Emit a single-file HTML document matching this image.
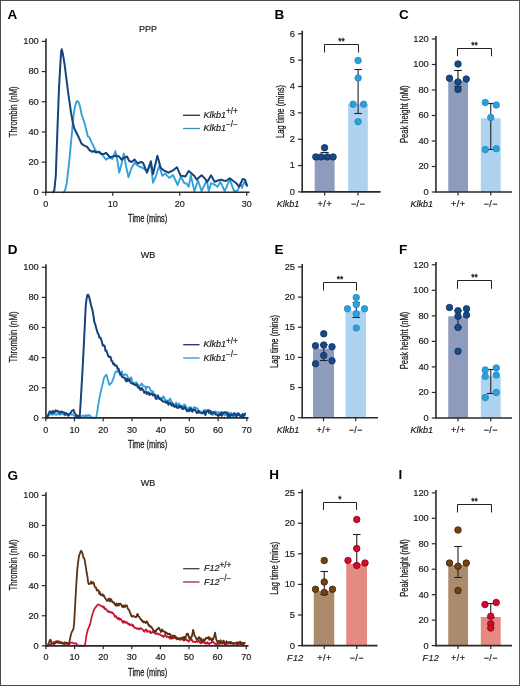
<!DOCTYPE html>
<html><head><meta charset="utf-8"><style>
html,body{margin:0;padding:0;background:#fff;}
.wrap{position:relative;width:520px;height:686px;overflow:hidden;background:#fff;}
.frame{position:absolute;left:0;top:0;width:518px;height:684px;border:1px solid #4a4a4a;border-right-color:#575757;}
svg{position:absolute;left:0;top:0;filter:blur(0.3px);}
svg text{font-family:"Liberation Sans",sans-serif;}
</style></head><body><div class="wrap">
<svg width="520" height="686" viewBox="0 0 520 686" font-family="Liberation Sans, sans-serif">
<text x="7.6" y="18.6" font-size="13.5" text-anchor="start" font-weight="bold" font-style="normal" fill="#000" >A</text>
<text x="148" y="32.3" font-size="9" text-anchor="middle" font-weight="normal" font-style="normal" fill="#1a1a1a"  stroke="#1a1a1a" stroke-width="0.18">PPP</text>
<path d="M63.6,192.5 L65,190.5 L66.5,184.6 L68.7,166.5 L70.5,148 L71.9,133.3 L73.5,115.6 L75.1,106 L76.5,101.6 L77.5,101 L78.5,102.2 L79.9,106 L81.5,114 L83.1,118.8 L84.7,123.7 L86.3,130.1 L87.9,136.5 L89.5,137.3 L91.1,141.3 L93.5,146.1 L95,149.5 L97,151.8 L99,152.5 L101.5,154.1 L104,157 L106,159.8 L108.5,158 L110,158 L112.3,159 L115.4,151.2 L117,158 L119.2,172.7 L121.5,164 L123.8,153.5 L126,166 L128.5,177.3 L131.5,168 L134.6,162.7 L137,165 L139.2,166.5 L143,168 L147,171.2 L150.8,164.2 L153,182.7 L156,175.8 L159.2,165.8 L162.3,175.8 L165.4,173.5 L169.2,178 L173,175 L177.7,185 L180.8,176.5 L184.3,183.2 L186.5,183.5 L188.7,186.8 L190.8,175.3 L194.4,191.2 L198,180.3 L201.6,191.2 L206.7,180.3 L208.8,191.2 L211,183.2 L214.5,184.5 L217.5,186.8 L220.4,181.8 L224.7,191.2 L229.8,179.6 L234.1,191.2 L237.7,190.5 L240.6,183.2 L242,188 L244.2,181.8 L247,186" fill="none" stroke="#33a1d9" stroke-width="1.9" stroke-linejoin="round" stroke-linecap="round"/>
<path d="M52.8,192.5 L54.3,190.6 L55.8,175.6 L57.4,130.4 L59,88 L60.6,60 L61.2,51.5 L61.7,49.3 L63,54.6 L64.6,64.3 L66.2,77.1 L67.8,90 L69.4,101.2 L71,112.4 L72.7,122 L74.3,128.5 L76.7,133.3 L79.1,138.1 L81.5,143.7 L83.9,145.3 L87.1,146.9 L89.5,150.1 L91.9,151.7 L94.3,150.9 L96,152.5 L99.2,151.8 L101.5,154 L103.8,154.1 L106,152.8 L108.5,155.5 L110,157.3 L113,156.5 L116.2,155.8 L119.2,156.5 L121.5,159.6 L123.8,158 L127,156.5 L129.2,161 L131.5,162 L134.6,159.6 L137.7,163.5 L140.8,162 L143,162.7 L147,172.7 L150.8,161.2 L153,174.2 L157.4,155.8 L160.8,168 L163.8,170.4 L168.5,172.7 L173,170.4 L177,167.3 L180.8,175.8 L182.9,176 L185.4,176.5 L188.7,171 L191,173 L194.4,176 L196.6,179.6 L201.6,175.3 L204,177.5 L207.4,181.8 L211,175.3 L214.6,181.8 L218,180.5 L221.1,179.6 L223.5,180.5 L226,181 L229.8,178.2 L232.7,180.5 L236.3,183.2 L239.1,186.8 L242.7,178.9 L245,179.6 L247,185.4" fill="none" stroke="#16437b" stroke-width="2.0" stroke-linejoin="round" stroke-linecap="round"/>
<line x1="45.95" y1="38.4" x2="45.95" y2="192.9" stroke="#2a2a2a" stroke-width="1.6"/>
<line x1="41.75" y1="192.3" x2="45.75" y2="192.3" stroke="#2a2a2a" stroke-width="1.2"/>
<text x="38.75" y="195.2" font-size="9.3" text-anchor="end" font-weight="normal" font-style="normal" fill="#1a1a1a"  stroke="#1a1a1a" stroke-width="0.18">0</text>
<line x1="41.75" y1="162.12" x2="45.75" y2="162.12" stroke="#2a2a2a" stroke-width="1.2"/>
<text x="38.75" y="165.02" font-size="9.3" text-anchor="end" font-weight="normal" font-style="normal" fill="#1a1a1a"  stroke="#1a1a1a" stroke-width="0.18">20</text>
<line x1="41.75" y1="131.94" x2="45.75" y2="131.94" stroke="#2a2a2a" stroke-width="1.2"/>
<text x="38.75" y="134.84" font-size="9.3" text-anchor="end" font-weight="normal" font-style="normal" fill="#1a1a1a"  stroke="#1a1a1a" stroke-width="0.18">40</text>
<line x1="41.75" y1="101.76" x2="45.75" y2="101.76" stroke="#2a2a2a" stroke-width="1.2"/>
<text x="38.75" y="104.66" font-size="9.3" text-anchor="end" font-weight="normal" font-style="normal" fill="#1a1a1a"  stroke="#1a1a1a" stroke-width="0.18">60</text>
<line x1="41.75" y1="71.58" x2="45.75" y2="71.58" stroke="#2a2a2a" stroke-width="1.2"/>
<text x="38.75" y="74.48" font-size="9.3" text-anchor="end" font-weight="normal" font-style="normal" fill="#1a1a1a"  stroke="#1a1a1a" stroke-width="0.18">80</text>
<line x1="41.75" y1="41.4" x2="45.75" y2="41.4" stroke="#2a2a2a" stroke-width="1.2"/>
<text x="38.75" y="44.3" font-size="9.3" text-anchor="end" font-weight="normal" font-style="normal" fill="#1a1a1a"  stroke="#1a1a1a" stroke-width="0.18">100</text>
<line x1="45.15" y1="192.3" x2="249.6" y2="192.3" stroke="#2a2a2a" stroke-width="1.6"/>
<line x1="45.75" y1="192.3" x2="45.75" y2="195.8" stroke="#2a2a2a" stroke-width="1.2"/>
<text x="45.75" y="207.2" font-size="9" text-anchor="middle" font-weight="normal" font-style="normal" fill="#1a1a1a"  stroke="#1a1a1a" stroke-width="0.18">0</text>
<line x1="112.75" y1="192.3" x2="112.75" y2="195.8" stroke="#2a2a2a" stroke-width="1.2"/>
<text x="112.75" y="207.2" font-size="9" text-anchor="middle" font-weight="normal" font-style="normal" fill="#1a1a1a"  stroke="#1a1a1a" stroke-width="0.18">10</text>
<line x1="179.75" y1="192.3" x2="179.75" y2="195.8" stroke="#2a2a2a" stroke-width="1.2"/>
<text x="179.75" y="207.2" font-size="9" text-anchor="middle" font-weight="normal" font-style="normal" fill="#1a1a1a"  stroke="#1a1a1a" stroke-width="0.18">20</text>
<line x1="246.75" y1="192.3" x2="246.75" y2="195.8" stroke="#2a2a2a" stroke-width="1.2"/>
<text x="246.75" y="207.2" font-size="9" text-anchor="middle" font-weight="normal" font-style="normal" fill="#1a1a1a"  stroke="#1a1a1a" stroke-width="0.18">30</text>
<text transform="translate(147.7,221.7) scale(0.733,1)" font-size="10.2" text-anchor="middle" fill="#1a1a1a" stroke="#1a1a1a" stroke-width="0.28">Time (mins)</text>
<text transform="translate(16.8,111.8) rotate(-90) scale(0.763,1)" font-size="10.2" text-anchor="middle" fill="#1a1a1a" stroke="#1a1a1a" stroke-width="0.25">Thrombin (nM)</text>
<line x1="183" y1="115.3" x2="200" y2="115.3" stroke="#1a3560" stroke-width="1.3"/>
<line x1="183" y1="128.5" x2="200" y2="128.5" stroke="#3593c4" stroke-width="1.3"/>
<text x="203.4" y="117.6" font-size="9" text-anchor="start" font-weight="normal" font-style="italic" fill="#1a1a1a"  stroke="#1a1a1a" stroke-width="0.18">Klkb1<tspan font-size="8.2" dy="-3.7" font-style="normal">+/+</tspan></text>
<text x="203.4" y="131.1" font-size="9" text-anchor="start" font-weight="normal" font-style="italic" fill="#1a1a1a"  stroke="#1a1a1a" stroke-width="0.18">Klkb1<tspan font-size="8.2" dy="-3.7" font-style="normal">&#8722;/&#8722;</tspan></text>
<text x="7.8" y="253.8" font-size="13.5" text-anchor="start" font-weight="bold" font-style="normal" fill="#000" >D</text>
<text x="148" y="258.1" font-size="9" text-anchor="middle" font-weight="normal" font-style="normal" fill="#1a1a1a"  stroke="#1a1a1a" stroke-width="0.18">WB</text>
<path d="M46.9,417.85 L47.76,417.33 L48.62,414.91 L49.48,414.98 L50.35,414.07 L51.21,414.13 L52.07,414.75 L52.93,413.8 L53.79,414.52 L54.66,413.8 L55.52,414.56 L56.38,414.79 L57.24,414.18 L58.1,413.2 L58.97,414.63 L59.83,414.85 L60.69,414.07 L61.55,413.24 L62.41,413.95 L63.28,414.62 L64.14,413.57 L65,415.49 L65.86,414.22 L66.72,415.05 L67.58,415.5 L68.45,415.58 L69.31,415.09 L70.17,413.74 L71.03,414.75 L71.89,414.2 L72.76,414.36 L73.62,415.35 L74.48,415.54 L75.34,417.02 L76.2,417.69 L77.07,417.74 L77.93,416.92 L78.79,417.52 L79.65,417.72 L80.51,417.06 L81.38,416.4 L82.24,415.61 L83.1,415.68 L83.96,416.08 L84.82,416.26 L85.68,414.93 L86.55,416.09 L87.41,415.78 L88.27,415.01 L89.13,415.76 L89.99,415.43 L90.86,417.81 L91.72,417.85 L92.58,417.35 L93.44,417.85 L94.3,417.85 L95.17,417.85 L96.03,417.85 L96.89,413.9 L97.75,408.53 L98.61,402.71 L99.48,397.76 L100.34,393.77 L101.2,390.1 L102.06,386.43 L102.92,382.83 L103.78,378.67 L104.65,376.46 L105.51,375.83 L106.37,374.63 L107.23,377.39 L108.09,380.54 L108.96,384.17 L109.82,384.89 L110.68,383.53 L111.54,382.7 L112.4,381.29 L113.27,378.58 L114.13,376.35 L114.99,373.14 L115.85,371.94 L116.71,370.9 L117.58,371.89 L118.44,368.9 L119.3,371.76 L120.16,372.45 L121.02,372.6 L121.88,371.12 L122.75,374.95 L123.61,374.88 L124.47,375.05 L125.33,374.12 L126.19,374.56 L127.06,374.89 L127.92,378.04 L128.78,378.63 L129.64,379.46 L130.5,377.71 L131.37,377.32 L132.23,381.23 L133.09,382.46 L133.95,382.88 L134.81,383.35 L135.67,382.7 L136.54,382.44 L137.4,384.21 L138.26,386.18 L139.12,385.15 L139.98,385.47 L140.85,385.02 L141.71,383.51 L142.57,384.67 L143.43,386.11 L144.29,386.28 L145.16,386.36 L146.02,389.48 L146.88,386.74 L147.74,386.88 L148.6,386.79 L149.47,387.41 L150.33,389.73 L151.19,390.7 L152.05,392.67 L152.91,391.15 L153.77,393.75 L154.64,394.77 L155.5,394.78 L156.36,395.39 L157.22,395.13 L158.08,396.73 L158.95,397.74 L159.81,397.68 L160.67,398.26 L161.53,397.6 L162.39,399.33 L163.26,396.3 L164.12,397.07 L164.98,399.72 L165.84,400.27 L166.7,400.33 L167.57,400.63 L168.43,402.15 L169.29,399.56 L170.15,398.56 L171.01,401 L171.87,401.83 L172.74,404.15 L173.6,404.96 L174.46,404.38 L175.32,404.83 L176.18,402.63 L177.05,405.33 L177.91,406.87 L178.77,403.3 L179.63,404.55 L180.49,406.83 L181.36,405.82 L182.22,408.12 L183.08,406.65 L183.94,404.47 L184.8,404.66 L185.67,405.69 L186.53,408.11 L187.39,408.39 L188.25,409.54 L189.11,407.26 L189.97,407.94 L190.84,407.16 L191.7,409.17 L192.56,410.32 L193.42,408.12 L194.28,406.96 L195.15,407.43 L196.01,407.93 L196.87,408.17 L197.73,408.76 L198.59,411.34 L199.46,410.8 L200.32,411.53 L201.18,413.32 L202.04,413.91 L202.9,413.05 L203.76,413.06 L204.63,411.24 L205.49,409.72 L206.35,411.78 L207.21,410.21 L208.07,409.72 L208.94,409.88 L209.8,412.68 L210.66,414.08 L211.52,414.46 L212.38,414.74 L213.25,414.84 L214.11,413.03 L214.97,411.38 L215.83,411.3 L216.69,412.97 L217.56,412.66 L218.42,411.98 L219.28,415.1 L220.14,413.33 L221,411.82 L221.86,412.08 L222.73,412.35 L223.59,413.7 L224.45,415.45 L225.31,413.19 L226.17,414.74 L227.04,413.07 L227.9,411.94 L228.76,414.32 L229.62,414.95 L230.48,412.68 L231.35,413.16 L232.21,415.83 L233.07,416.74 L233.93,416.91 L234.79,413.59 L235.66,413.25 L236.52,416.19 L237.38,413.9 L238.24,412.67 L239.1,413.87 L239.96,415.6 L240.83,415.19 L241.69,417.01 L242.55,417.85 L243.41,414.02 L244.27,414.52 L245.14,415.24" fill="none" stroke="#33a1d9" stroke-width="1.8" stroke-linejoin="round" stroke-linecap="round"/>
<path d="M46.9,417.85 L47.76,415.71 L48.62,413.84 L49.48,411.73 L50.35,411.38 L51.21,412.85 L52.07,413.27 L52.93,410.86 L53.79,411.99 L54.66,412.42 L55.52,410.35 L56.38,411.43 L57.24,410.68 L58.1,411.61 L58.97,411.5 L59.83,413.06 L60.69,412.17 L61.55,411.41 L62.41,412.38 L63.28,412.13 L64.14,412.41 L65,414.43 L65.86,413.05 L66.72,413.36 L67.58,414.45 L68.45,415.67 L69.31,413.69 L70.17,413.55 L71.03,412.24 L71.89,410.88 L72.76,410.47 L73.62,409.98 L74.48,412.97 L75.34,413.71 L76.2,416.13 L77.07,415.41 L77.93,415.77 L78.79,417.85 L79.65,417.8 L80.51,404.55 L81.38,389.75 L82.24,375.14 L83.1,359.19 L83.96,342.27 L84.82,324.52 L85.68,306.57 L86.55,298.9 L87.41,294.95 L88.27,294.79 L89.13,296.84 L89.99,300.74 L90.86,304.39 L91.72,307.54 L92.58,310.79 L93.44,315.79 L94.3,321.94 L95.17,324.01 L96.03,327.2 L96.89,330.42 L97.75,333.15 L98.61,334.46 L99.48,337.74 L100.34,337.47 L101.2,339.47 L102.06,342.64 L102.92,345.73 L103.78,345.15 L104.65,346.01 L105.51,350.82 L106.37,350.51 L107.23,352.98 L108.09,355.67 L108.96,356.97 L109.82,356.58 L110.68,357.09 L111.54,361.2 L112.4,361.16 L113.27,364.2 L114.13,363.51 L114.99,365.72 L115.85,365.27 L116.71,365.78 L117.58,368.59 L118.44,368.48 L119.3,371.91 L120.16,374.57 L121.02,374.06 L121.88,376.63 L122.75,377.35 L123.61,377.45 L124.47,377.42 L125.33,379.66 L126.19,381.41 L127.06,378.81 L127.92,381.05 L128.78,379.35 L129.64,379.7 L130.5,382.52 L131.37,383.29 L132.23,383.63 L133.09,383.6 L133.95,384.21 L134.81,384.93 L135.67,385.26 L136.54,384.38 L137.4,386.44 L138.26,387.63 L139.12,387.06 L139.98,389.36 L140.85,390.03 L141.71,387.67 L142.57,389.41 L143.43,390.1 L144.29,392.86 L145.16,392.13 L146.02,391.55 L146.88,394.12 L147.74,392.51 L148.6,392.35 L149.47,395.08 L150.33,393.64 L151.19,394.3 L152.05,393.88 L152.91,395.5 L153.77,394.71 L154.64,394.7 L155.5,398.1 L156.36,399.11 L157.22,397.04 L158.08,395.68 L158.95,398.77 L159.81,399.04 L160.67,398.89 L161.53,400.4 L162.39,400.96 L163.26,401.65 L164.12,401.85 L164.98,401.22 L165.84,402.62 L166.7,402.92 L167.57,401.59 L168.43,404.75 L169.29,403.47 L170.15,402.69 L171.01,404.58 L171.87,405.69 L172.74,403.73 L173.6,405.92 L174.46,406.95 L175.32,406.35 L176.18,405.27 L177.05,407.76 L177.91,407.64 L178.77,407.77 L179.63,405.86 L180.49,407.28 L181.36,406.05 L182.22,408.89 L183.08,409.08 L183.94,407.99 L184.8,406.91 L185.67,408.71 L186.53,410.3 L187.39,411.26 L188.25,409.89 L189.11,411.13 L189.97,408.94 L190.84,408.39 L191.7,411.19 L192.56,411.62 L193.42,409.6 L194.28,409.94 L195.15,409.45 L196.01,411.44 L196.87,413 L197.73,412.83 L198.59,410.72 L199.46,412.54 L200.32,412.77 L201.18,412.62 L202.04,412.67 L202.9,412.83 L203.76,410.77 L204.63,413.64 L205.49,415.11 L206.35,411.54 L207.21,411.02 L208.07,410.53 L208.94,412.88 L209.8,411.33 L210.66,411.07 L211.52,414.08 L212.38,412.62 L213.25,411.91 L214.11,412.52 L214.97,413.34 L215.83,414.57 L216.69,414.7 L217.56,415.27 L218.42,416.13 L219.28,414.16 L220.14,415.01 L221,413.01 L221.86,415.84 L222.73,412.91 L223.59,413.12 L224.45,412.23 L225.31,412.17 L226.17,412.18 L227.04,413.61 L227.9,416.44 L228.76,414.04 L229.62,415.95 L230.48,415.91 L231.35,414.39 L232.21,414.64 L233.07,415.22 L233.93,413.15 L234.79,414.07 L235.66,415.5 L236.52,416.28 L237.38,413.9 L238.24,415 L239.1,414 L239.96,415.64 L240.83,416.75 L241.69,415.62 L242.55,414.17 L243.41,416.61 L244.27,414.6 L245.14,413.58" fill="none" stroke="#16437b" stroke-width="2.0" stroke-linejoin="round" stroke-linecap="round"/>
<line x1="45.95" y1="264.25" x2="45.95" y2="418.45" stroke="#2a2a2a" stroke-width="1.6"/>
<line x1="41.75" y1="417.85" x2="45.75" y2="417.85" stroke="#2a2a2a" stroke-width="1.2"/>
<text x="38.75" y="420.75" font-size="9.3" text-anchor="end" font-weight="normal" font-style="normal" fill="#1a1a1a"  stroke="#1a1a1a" stroke-width="0.18">0</text>
<line x1="41.75" y1="387.73" x2="45.75" y2="387.73" stroke="#2a2a2a" stroke-width="1.2"/>
<text x="38.75" y="390.63" font-size="9.3" text-anchor="end" font-weight="normal" font-style="normal" fill="#1a1a1a"  stroke="#1a1a1a" stroke-width="0.18">20</text>
<line x1="41.75" y1="357.61" x2="45.75" y2="357.61" stroke="#2a2a2a" stroke-width="1.2"/>
<text x="38.75" y="360.51" font-size="9.3" text-anchor="end" font-weight="normal" font-style="normal" fill="#1a1a1a"  stroke="#1a1a1a" stroke-width="0.18">40</text>
<line x1="41.75" y1="327.49" x2="45.75" y2="327.49" stroke="#2a2a2a" stroke-width="1.2"/>
<text x="38.75" y="330.39" font-size="9.3" text-anchor="end" font-weight="normal" font-style="normal" fill="#1a1a1a"  stroke="#1a1a1a" stroke-width="0.18">60</text>
<line x1="41.75" y1="297.37" x2="45.75" y2="297.37" stroke="#2a2a2a" stroke-width="1.2"/>
<text x="38.75" y="300.27" font-size="9.3" text-anchor="end" font-weight="normal" font-style="normal" fill="#1a1a1a"  stroke="#1a1a1a" stroke-width="0.18">80</text>
<line x1="41.75" y1="267.25" x2="45.75" y2="267.25" stroke="#2a2a2a" stroke-width="1.2"/>
<text x="38.75" y="270.15" font-size="9.3" text-anchor="end" font-weight="normal" font-style="normal" fill="#1a1a1a"  stroke="#1a1a1a" stroke-width="0.18">100</text>
<line x1="45.15" y1="417.85" x2="248.5" y2="417.85" stroke="#2a2a2a" stroke-width="1.6"/>
<line x1="45.75" y1="417.85" x2="45.75" y2="421.35" stroke="#2a2a2a" stroke-width="1.2"/>
<text x="45.75" y="432.5" font-size="9" text-anchor="middle" font-weight="normal" font-style="normal" fill="#1a1a1a"  stroke="#1a1a1a" stroke-width="0.18">0</text>
<line x1="74.48" y1="417.85" x2="74.48" y2="421.35" stroke="#2a2a2a" stroke-width="1.2"/>
<text x="74.48" y="432.5" font-size="9" text-anchor="middle" font-weight="normal" font-style="normal" fill="#1a1a1a"  stroke="#1a1a1a" stroke-width="0.18">10</text>
<line x1="103.21" y1="417.85" x2="103.21" y2="421.35" stroke="#2a2a2a" stroke-width="1.2"/>
<text x="103.21" y="432.5" font-size="9" text-anchor="middle" font-weight="normal" font-style="normal" fill="#1a1a1a"  stroke="#1a1a1a" stroke-width="0.18">20</text>
<line x1="131.94" y1="417.85" x2="131.94" y2="421.35" stroke="#2a2a2a" stroke-width="1.2"/>
<text x="131.94" y="432.5" font-size="9" text-anchor="middle" font-weight="normal" font-style="normal" fill="#1a1a1a"  stroke="#1a1a1a" stroke-width="0.18">30</text>
<line x1="160.67" y1="417.85" x2="160.67" y2="421.35" stroke="#2a2a2a" stroke-width="1.2"/>
<text x="160.67" y="432.5" font-size="9" text-anchor="middle" font-weight="normal" font-style="normal" fill="#1a1a1a"  stroke="#1a1a1a" stroke-width="0.18">40</text>
<line x1="189.4" y1="417.85" x2="189.4" y2="421.35" stroke="#2a2a2a" stroke-width="1.2"/>
<text x="189.4" y="432.5" font-size="9" text-anchor="middle" font-weight="normal" font-style="normal" fill="#1a1a1a"  stroke="#1a1a1a" stroke-width="0.18">50</text>
<line x1="218.13" y1="417.85" x2="218.13" y2="421.35" stroke="#2a2a2a" stroke-width="1.2"/>
<text x="218.13" y="432.5" font-size="9" text-anchor="middle" font-weight="normal" font-style="normal" fill="#1a1a1a"  stroke="#1a1a1a" stroke-width="0.18">60</text>
<line x1="246.86" y1="417.85" x2="246.86" y2="421.35" stroke="#2a2a2a" stroke-width="1.2"/>
<text x="246.86" y="432.5" font-size="9" text-anchor="middle" font-weight="normal" font-style="normal" fill="#1a1a1a"  stroke="#1a1a1a" stroke-width="0.18">70</text>
<text transform="translate(147.7,448) scale(0.733,1)" font-size="10.2" text-anchor="middle" fill="#1a1a1a" stroke="#1a1a1a" stroke-width="0.28">Time (mins)</text>
<text transform="translate(16.8,337) rotate(-90) scale(0.763,1)" font-size="10.2" text-anchor="middle" fill="#1a1a1a" stroke="#1a1a1a" stroke-width="0.25">Thrombin (nM)</text>
<line x1="183.2" y1="344.7" x2="199.6" y2="344.7" stroke="#1a3560" stroke-width="1.3"/>
<line x1="183.2" y1="358" x2="199.6" y2="358" stroke="#3593c4" stroke-width="1.3"/>
<text x="203.4" y="347.2" font-size="9" text-anchor="start" font-weight="normal" font-style="italic" fill="#1a1a1a"  stroke="#1a1a1a" stroke-width="0.18">Klkb1<tspan font-size="8.2" dy="-3.7" font-style="normal">+/+</tspan></text>
<text x="203.4" y="360.6" font-size="9" text-anchor="start" font-weight="normal" font-style="italic" fill="#1a1a1a"  stroke="#1a1a1a" stroke-width="0.18">Klkb1<tspan font-size="8.2" dy="-3.7" font-style="normal">&#8722;/&#8722;</tspan></text>
<text x="7.6" y="479.5" font-size="13.5" text-anchor="start" font-weight="bold" font-style="normal" fill="#000" >G</text>
<text x="148" y="486.1" font-size="9" text-anchor="middle" font-weight="normal" font-style="normal" fill="#1a1a1a"  stroke="#1a1a1a" stroke-width="0.18">WB</text>
<path d="M47.72,645.85 L48.35,645.43 L48.97,644.55 L49.6,644.68 L50.23,644.4 L50.86,643.95 L51.49,644.12 L52.12,643.41 L52.75,642.76 L53.38,642.07 L54.01,642.53 L54.64,642.05 L55.27,642 L55.9,641.19 L56.52,641.21 L57.15,642.17 L57.78,641.2 L58.41,641.05 L59.04,641.51 L59.67,641.74 L60.3,642.49 L60.93,643.07 L61.56,642.68 L62.19,643.38 L62.82,643.55 L63.45,643.69 L64.08,644.17 L64.7,643.84 L65.33,643.81 L65.96,643.31 L66.59,643.67 L67.22,643.65 L67.85,643.88 L68.48,643.77 L69.11,643.97 L69.74,644.09 L70.37,643 L71,642.59 L71.63,642.55 L72.25,642.58 L72.88,642.98 L73.51,643.33 L74.14,643.41 L74.77,643.79 L75.4,643.01 L76.03,643.38 L76.66,643.77 L77.29,645.19 L77.92,645.34 L78.55,645.54 L79.18,645.85 L79.81,645.85 L80.43,645.64 L81.06,645.82 L81.69,645.52 L82.32,645.84 L82.95,645.85 L83.58,645.83 L84.21,645.66 L84.84,645.85 L85.47,642.3 L86.1,637.95 L86.73,634.14 L87.36,631.32 L87.98,629.38 L88.61,627.86 L89.24,626.42 L89.87,624.93 L90.5,622.51 L91.13,619.82 L91.76,616.66 L92.39,614.37 L93.02,612.77 L93.65,610.67 L94.28,609.21 L94.91,608.05 L95.54,607.52 L96.16,606.58 L96.79,605.87 L97.42,605.05 L98.05,604.5 L98.68,604.49 L99.31,604.9 L99.94,604.97 L100.57,605.72 L101.2,606.07 L101.83,606.13 L102.46,606.57 L103.09,607.34 L103.71,606.37 L104.34,608.37 L104.97,609.09 L105.6,608.31 L106.23,609.54 L106.86,610.25 L107.49,611.3 L108.12,611.84 L108.75,611.05 L109.38,612.01 L110.01,611.66 L110.64,612.45 L111.27,612.76 L111.89,611.88 L112.52,613.15 L113.15,613.65 L113.78,613.62 L114.41,615.82 L115.04,616.97 L115.67,615.9 L116.3,616.27 L116.93,618.04 L117.56,618.94 L118.19,618.1 L118.82,617.71 L119.44,619.76 L120.07,618.71 L120.7,618.92 L121.33,619.98 L121.96,621 L122.59,622.21 L123.22,622.85 L123.85,620.9 L124.48,622.39 L125.11,621.78 L125.74,622.92 L126.37,621.98 L127,622.49 L127.62,623.55 L128.25,624.29 L128.88,623.38 L129.51,625.02 L130.14,625.28 L130.77,624.77 L131.4,624.17 L132.03,624.85 L132.66,626.1 L133.29,625.08 L133.92,626.85 L134.55,627.99 L135.17,627.84 L135.8,627.56 L136.43,628.65 L137.06,628.84 L137.69,628.62 L138.32,628.26 L138.95,629.46 L139.58,629.4 L140.21,628.27 L140.84,627.94 L141.47,628.77 L142.1,629.01 L142.73,629.46 L143.35,630.8 L143.98,631.52 L144.61,631.87 L145.24,629.86 L145.87,630.01 L146.5,629.52 L147.13,631.88 L147.76,631.13 L148.39,631.5 L149.02,631.16 L149.65,632.27 L150.28,631.03 L150.9,633.2 L151.53,632.75 L152.16,632.34 L152.79,632.01 L153.42,632.47 L154.05,632.8 L154.68,632.79 L155.31,632.62 L155.94,634.12 L156.57,633.8 L157.2,633.32 L157.83,633.41 L158.46,634.69 L159.08,634.22 L159.71,634.05 L160.34,634.86 L160.97,635.06 L161.6,635.85 L162.23,635.68 L162.86,635.7 L163.49,637.15 L164.12,636.25 L164.75,635.28 L165.38,635.44 L166.01,635.93 L166.63,636.99 L167.26,636.48 L167.89,636.83 L168.52,637.36 L169.15,636.59 L169.78,638.36 L170.41,637.24 L171.04,638.84 L171.67,637.89 L172.3,637.96 L172.93,638.62 L173.56,637.65 L174.19,637.93 L174.81,637.73 L175.44,636.95 L176.07,638.43 L176.7,639.43 L177.33,638.98 L177.96,638.05 L178.59,639.15 L179.22,639.64 L179.85,638.07 L180.48,638.42 L181.11,639.19 L181.74,638.4 L182.36,639.74 L182.99,639.37 L183.62,640.57 L184.25,640.37 L184.88,639.43 L185.51,638.98 L186.14,639.01 L186.77,640.31 L187.4,640.2 L188.03,640.89 L188.66,641.57 L189.29,640.9 L189.92,639.94 L190.54,639.73 L191.17,640.08 L191.8,639.63 L192.43,641.25 L193.06,641.98 L193.69,641.52 L194.32,641.9 L194.95,642.2 L195.58,641.82 L196.21,641.25 L196.84,641.48 L197.47,642.03 L198.09,640.92 L198.72,640.33 L199.35,641.55 L199.98,642.84 L200.61,643.32 L201.24,641.39 L201.87,643.03 L202.5,641.82 L203.13,641.91 L203.76,642.63 L204.39,641.66 L205.02,643.39 L205.65,643.58 L206.27,642.88 L206.9,643.82 L207.53,642.1 L208.16,643.19 L208.79,643.75 L209.42,644.17 L210.05,642.87 L210.68,643.02 L211.31,642.63 L211.94,642.5 L212.57,642.11 L213.2,641.67 L213.82,642.26 L214.45,643.64 L215.08,643.33 L215.71,644.01 L216.34,644.63 L216.97,643.66 L217.6,642.85 L218.23,644 L218.86,644.08 L219.49,643.95 L220.12,643.07 L220.75,643.31 L221.38,643.16 L222,642.8 L222.63,643.64 L223.26,642.89 L223.89,642.42 L224.52,644.35 L225.15,642.74 L225.78,642.87 L226.41,644.38 L227.04,643.96 L227.67,643.44 L228.3,642.61 L228.93,643.74 L229.55,643.55 L230.18,642.75 L230.81,642.76 L231.44,642.4 L232.07,643.52 L232.7,643.34 L233.33,644.41 L233.96,643.41 L234.59,642.93 L235.22,643.25 L235.85,643.16 L236.48,644.39 L237.11,643.01 L237.73,642.47 L238.36,642.35 L238.99,643.43 L239.62,643.07 L240.25,644.16 L240.88,642.98 L241.51,642.83 L242.14,644.06 L242.77,645.04 L243.4,644.4 L244.03,643.98 L244.66,643.34" fill="none" stroke="#cc1034" stroke-width="1.7" stroke-linejoin="round" stroke-linecap="round"/>
<path d="M47.72,645.63 L48.35,644 L48.97,642.47 L49.6,640.8 L50.23,639.73 L50.86,640.22 L51.49,642.73 L52.12,643.29 L52.75,643.29 L53.38,644 L54.01,643.09 L54.64,643.9 L55.27,643.06 L55.9,642.86 L56.52,641.88 L57.15,641.8 L57.78,642.91 L58.41,642.93 L59.04,642.93 L59.67,641.89 L60.3,642.01 L60.93,643.24 L61.56,642.39 L62.19,643.32 L62.82,642.66 L63.45,643.35 L64.08,643.72 L64.7,642.22 L65.33,643.01 L65.96,643.16 L66.59,642.53 L67.22,643.16 L67.85,644.69 L68.48,643.07 L69.11,642.96 L69.74,640.62 L70.37,637.04 L71,634.19 L71.63,632.47 L72.25,631.22 L72.88,630.27 L73.51,628.57 L74.14,623.09 L74.77,611.78 L75.4,600.33 L76.03,588.94 L76.66,578.63 L77.29,569.35 L77.92,563.66 L78.55,558.97 L79.18,555.12 L79.81,553.83 L80.43,551.91 L81.06,550.78 L81.69,551.5 L82.32,553.09 L82.95,555.53 L83.58,557.9 L84.21,558.27 L84.84,560.83 L85.47,564.86 L86.1,568.63 L86.73,573.03 L87.36,575.91 L87.98,581.09 L88.61,584.16 L89.24,583.82 L89.87,583.64 L90.5,583.67 L91.13,581.51 L91.76,583.65 L92.39,582.71 L93.02,582.2 L93.65,582.51 L94.28,585.4 L94.91,586.89 L95.54,587.52 L96.16,587.69 L96.79,590.62 L97.42,589.89 L98.05,590.16 L98.68,590.65 L99.31,593.93 L99.94,592.21 L100.57,594.87 L101.2,595.13 L101.83,594.74 L102.46,594.06 L103.09,596.11 L103.71,595.15 L104.34,596.49 L104.97,597.94 L105.6,598.67 L106.23,599.67 L106.86,600.61 L107.49,601 L108.12,599.73 L108.75,598.32 L109.38,600.61 L110.01,601.54 L110.64,598.81 L111.27,599.56 L111.89,600.72 L112.52,602.29 L113.15,602.23 L113.78,602.15 L114.41,603.9 L115.04,604.33 L115.67,605.67 L116.3,603.36 L116.93,605.65 L117.56,604.84 L118.19,603.62 L118.82,605.62 L119.44,604.33 L120.07,603.48 L120.7,604.42 L121.33,604.3 L121.96,606.56 L122.59,606.24 L123.22,607.2 L123.85,605.39 L124.48,606.81 L125.11,606.81 L125.74,605.23 L126.37,605.44 L127,605.65 L127.62,608.14 L128.25,609.35 L128.88,609.59 L129.51,611.14 L130.14,612.99 L130.77,614.06 L131.4,616.06 L132.03,616.76 L132.66,615.93 L133.29,615.84 L133.92,616.37 L134.55,616.59 L135.17,616.85 L135.8,617.39 L136.43,616.63 L137.06,614.52 L137.69,613.83 L138.32,616.34 L138.95,616.43 L139.58,617.31 L140.21,618.59 L140.84,619.62 L141.47,619.71 L142.1,621.24 L142.73,620.82 L143.35,622.31 L143.98,622.3 L144.61,621.66 L145.24,622.02 L145.87,623.18 L146.5,621.34 L147.13,621.74 L147.76,622.69 L148.39,625.34 L149.02,624.88 L149.65,626.28 L150.28,625.87 L150.9,627 L151.53,627 L152.16,628.33 L152.79,628.98 L153.42,631.36 L154.05,631.8 L154.68,631.11 L155.31,630.34 L155.94,631.38 L156.57,629.81 L157.2,629.05 L157.83,629.15 L158.46,627.99 L159.08,627.93 L159.71,629.61 L160.34,630.24 L160.97,632.1 L161.6,630.09 L162.23,629.42 L162.86,631.38 L163.49,631.24 L164.12,631.33 L164.75,631.53 L165.38,634.07 L166.01,632.46 L166.63,633.1 L167.26,633.14 L167.89,634.37 L168.52,634.08 L169.15,633.62 L169.78,634.29 L170.41,634.26 L171.04,637.14 L171.67,637.42 L172.3,636.44 L172.93,635.44 L173.56,637.04 L174.19,635.64 L174.81,635.61 L175.44,638.09 L176.07,637.06 L176.7,637.89 L177.33,638.9 L177.96,638.92 L178.59,638.28 L179.22,638.76 L179.85,638.93 L180.48,639.71 L181.11,638.25 L181.74,638.33 L182.36,637.5 L182.99,637.48 L183.62,639 L184.25,636.78 L184.88,639.98 L185.51,637.58 L186.14,635.99 L186.77,633.63 L187.4,634.93 L188.03,633.71 L188.66,636.33 L189.29,638.87 L189.92,637.15 L190.54,638.98 L191.17,637.76 L191.8,636.48 L192.43,633.41 L193.06,629.82 L193.69,631.85 L194.32,635.39 L194.95,636.1 L195.58,636.93 L196.21,638.43 L196.84,639.95 L197.47,638.71 L198.09,638.75 L198.72,637.38 L199.35,637.21 L199.98,638.79 L200.61,640.18 L201.24,638.32 L201.87,641.48 L202.5,641.84 L203.13,640.06 L203.76,639.42 L204.39,641.19 L205.02,639.64 L205.65,638.09 L206.27,638.69 L206.9,637.76 L207.53,637.51 L208.16,638.48 L208.79,636.93 L209.42,639.88 L210.05,638.32 L210.68,638.08 L211.31,639.36 L211.94,641.08 L212.57,638.62 L213.2,639.28 L213.82,637.3 L214.45,635.21 L215.08,632.7 L215.71,636.38 L216.34,639.87 L216.97,640.93 L217.6,642.44 L218.23,640.92 L218.86,641.41 L219.49,642.28 L220.12,640.65 L220.75,640.19 L221.38,643.53 L222,642.36 L222.63,643.13 L223.26,640.67 L223.89,640.97 L224.52,642.77 L225.15,643.19 L225.78,643.68 L226.41,641.21 L227.04,642.82 L227.67,642.27 L228.3,642.59 L228.93,642.16 L229.55,642.22 L230.18,641.83 L230.81,643.75 L231.44,642.23 L232.07,643.33 L232.7,642.89 L233.33,643.42 L233.96,643.7 L234.59,643.05 L235.22,643.12 L235.85,643.48 L236.48,642.38 L237.11,642.61 L237.73,644.44 L238.36,644.23 L238.99,643.56 L239.62,641.95 L240.25,641.66 L240.88,642.69 L241.51,644.65 L242.14,642.74 L242.77,643.39 L243.4,643.11 L244.03,642.64 L244.66,642.78" fill="none" stroke="#5a3212" stroke-width="1.8" stroke-linejoin="round" stroke-linecap="round"/>
<line x1="45.95" y1="492.35" x2="45.95" y2="646.45" stroke="#2a2a2a" stroke-width="1.6"/>
<line x1="41.75" y1="645.85" x2="45.75" y2="645.85" stroke="#2a2a2a" stroke-width="1.2"/>
<text x="38.75" y="648.75" font-size="9.3" text-anchor="end" font-weight="normal" font-style="normal" fill="#1a1a1a"  stroke="#1a1a1a" stroke-width="0.18">0</text>
<line x1="41.75" y1="615.75" x2="45.75" y2="615.75" stroke="#2a2a2a" stroke-width="1.2"/>
<text x="38.75" y="618.65" font-size="9.3" text-anchor="end" font-weight="normal" font-style="normal" fill="#1a1a1a"  stroke="#1a1a1a" stroke-width="0.18">20</text>
<line x1="41.75" y1="585.65" x2="45.75" y2="585.65" stroke="#2a2a2a" stroke-width="1.2"/>
<text x="38.75" y="588.55" font-size="9.3" text-anchor="end" font-weight="normal" font-style="normal" fill="#1a1a1a"  stroke="#1a1a1a" stroke-width="0.18">40</text>
<line x1="41.75" y1="555.55" x2="45.75" y2="555.55" stroke="#2a2a2a" stroke-width="1.2"/>
<text x="38.75" y="558.45" font-size="9.3" text-anchor="end" font-weight="normal" font-style="normal" fill="#1a1a1a"  stroke="#1a1a1a" stroke-width="0.18">60</text>
<line x1="41.75" y1="525.45" x2="45.75" y2="525.45" stroke="#2a2a2a" stroke-width="1.2"/>
<text x="38.75" y="528.35" font-size="9.3" text-anchor="end" font-weight="normal" font-style="normal" fill="#1a1a1a"  stroke="#1a1a1a" stroke-width="0.18">80</text>
<line x1="41.75" y1="495.35" x2="45.75" y2="495.35" stroke="#2a2a2a" stroke-width="1.2"/>
<text x="38.75" y="498.25" font-size="9.3" text-anchor="end" font-weight="normal" font-style="normal" fill="#1a1a1a"  stroke="#1a1a1a" stroke-width="0.18">100</text>
<line x1="45.15" y1="645.85" x2="248.5" y2="645.85" stroke="#2a2a2a" stroke-width="1.6"/>
<line x1="46" y1="645.85" x2="46" y2="649.35" stroke="#2a2a2a" stroke-width="1.2"/>
<text x="46" y="660.1" font-size="9" text-anchor="middle" font-weight="normal" font-style="normal" fill="#1a1a1a"  stroke="#1a1a1a" stroke-width="0.18">0</text>
<line x1="74.6" y1="645.85" x2="74.6" y2="649.35" stroke="#2a2a2a" stroke-width="1.2"/>
<text x="74.6" y="660.1" font-size="9" text-anchor="middle" font-weight="normal" font-style="normal" fill="#1a1a1a"  stroke="#1a1a1a" stroke-width="0.18">10</text>
<line x1="103.2" y1="645.85" x2="103.2" y2="649.35" stroke="#2a2a2a" stroke-width="1.2"/>
<text x="103.2" y="660.1" font-size="9" text-anchor="middle" font-weight="normal" font-style="normal" fill="#1a1a1a"  stroke="#1a1a1a" stroke-width="0.18">20</text>
<line x1="131.8" y1="645.85" x2="131.8" y2="649.35" stroke="#2a2a2a" stroke-width="1.2"/>
<text x="131.8" y="660.1" font-size="9" text-anchor="middle" font-weight="normal" font-style="normal" fill="#1a1a1a"  stroke="#1a1a1a" stroke-width="0.18">30</text>
<line x1="160.4" y1="645.85" x2="160.4" y2="649.35" stroke="#2a2a2a" stroke-width="1.2"/>
<text x="160.4" y="660.1" font-size="9" text-anchor="middle" font-weight="normal" font-style="normal" fill="#1a1a1a"  stroke="#1a1a1a" stroke-width="0.18">40</text>
<line x1="189" y1="645.85" x2="189" y2="649.35" stroke="#2a2a2a" stroke-width="1.2"/>
<text x="189" y="660.1" font-size="9" text-anchor="middle" font-weight="normal" font-style="normal" fill="#1a1a1a"  stroke="#1a1a1a" stroke-width="0.18">50</text>
<line x1="217.6" y1="645.85" x2="217.6" y2="649.35" stroke="#2a2a2a" stroke-width="1.2"/>
<text x="217.6" y="660.1" font-size="9" text-anchor="middle" font-weight="normal" font-style="normal" fill="#1a1a1a"  stroke="#1a1a1a" stroke-width="0.18">60</text>
<line x1="246.2" y1="645.85" x2="246.2" y2="649.35" stroke="#2a2a2a" stroke-width="1.2"/>
<text x="246.2" y="660.1" font-size="9" text-anchor="middle" font-weight="normal" font-style="normal" fill="#1a1a1a"  stroke="#1a1a1a" stroke-width="0.18">70</text>
<text transform="translate(147.7,676) scale(0.733,1)" font-size="10.2" text-anchor="middle" fill="#1a1a1a" stroke="#1a1a1a" stroke-width="0.28">Time (mins)</text>
<text transform="translate(16.8,564.9) rotate(-90) scale(0.763,1)" font-size="10.2" text-anchor="middle" fill="#1a1a1a" stroke="#1a1a1a" stroke-width="0.25">Thrombin (nM)</text>
<line x1="183.1" y1="568.7" x2="199.5" y2="568.7" stroke="#5a3a22" stroke-width="1.3"/>
<line x1="183.1" y1="582" x2="199.5" y2="582" stroke="#b0203e" stroke-width="1.3"/>
<text x="203.9" y="571.4" font-size="9" text-anchor="start" font-weight="normal" font-style="italic" fill="#1a1a1a"  stroke="#1a1a1a" stroke-width="0.18">F12<tspan font-size="8.2" dy="-3.7" font-style="normal">+/+</tspan></text>
<text x="203.9" y="584.6" font-size="9" text-anchor="start" font-weight="normal" font-style="italic" fill="#1a1a1a"  stroke="#1a1a1a" stroke-width="0.18">F12<tspan font-size="8.2" dy="-3.7" font-style="normal">&#8722;/&#8722;</tspan></text>
<text x="274.6" y="18.8" font-size="13.5" text-anchor="start" font-weight="bold" font-style="normal" fill="#000" >B</text>
<rect x="314.7" y="156.85" width="19.9" height="35.05" fill="#8e9bbd"/>
<rect x="348.1" y="104.2" width="19.7" height="87.7" fill="#aed3f1"/>
<line x1="324.6" y1="152.5" x2="324.6" y2="152.5" stroke="#222" stroke-width="1.1"/>
<line x1="320.8" y1="152.5" x2="328.4" y2="152.5" stroke="#222" stroke-width="1.1"/>
<line x1="320.8" y1="152.5" x2="328.4" y2="152.5" stroke="#222" stroke-width="1.1"/>
<line x1="358.1" y1="69.5" x2="358.1" y2="113.5" stroke="#222" stroke-width="1.1"/>
<line x1="354.3" y1="69.5" x2="361.9" y2="69.5" stroke="#222" stroke-width="1.1"/>
<line x1="354.3" y1="113.5" x2="361.9" y2="113.5" stroke="#222" stroke-width="1.1"/>
<circle cx="315.8" cy="156.9" r="3.25" fill="#164985" stroke="#0c3262" stroke-width="0.8"/>
<circle cx="321.2" cy="156.9" r="3.25" fill="#164985" stroke="#0c3262" stroke-width="0.8"/>
<circle cx="327.3" cy="156.9" r="3.25" fill="#164985" stroke="#0c3262" stroke-width="0.8"/>
<circle cx="333.1" cy="156.9" r="3.25" fill="#164985" stroke="#0c3262" stroke-width="0.8"/>
<circle cx="324.6" cy="147.7" r="3.25" fill="#164985" stroke="#0c3262" stroke-width="0.8"/>
<circle cx="358.1" cy="60.5" r="3.25" fill="#2ca0da" stroke="#1f88c4" stroke-width="0.8"/>
<circle cx="358.1" cy="78" r="3.25" fill="#2ca0da" stroke="#1f88c4" stroke-width="0.8"/>
<circle cx="353.1" cy="104.2" r="3.25" fill="#2ca0da" stroke="#1f88c4" stroke-width="0.8"/>
<circle cx="363.6" cy="104.2" r="3.25" fill="#2ca0da" stroke="#1f88c4" stroke-width="0.8"/>
<circle cx="358.1" cy="121.7" r="3.25" fill="#2ca0da" stroke="#1f88c4" stroke-width="0.8"/>
<line x1="302.2" y1="30.8" x2="302.2" y2="192.5" stroke="#2a2a2a" stroke-width="1.6"/>
<line x1="298" y1="191.9" x2="302" y2="191.9" stroke="#2a2a2a" stroke-width="1.2"/>
<text x="295" y="194.8" font-size="9.3" text-anchor="end" font-weight="normal" font-style="normal" fill="#1a1a1a"  stroke="#1a1a1a" stroke-width="0.18">0</text>
<line x1="298" y1="165.55" x2="302" y2="165.55" stroke="#2a2a2a" stroke-width="1.2"/>
<text x="295" y="168.45" font-size="9.3" text-anchor="end" font-weight="normal" font-style="normal" fill="#1a1a1a"  stroke="#1a1a1a" stroke-width="0.18">1</text>
<line x1="298" y1="139.2" x2="302" y2="139.2" stroke="#2a2a2a" stroke-width="1.2"/>
<text x="295" y="142.1" font-size="9.3" text-anchor="end" font-weight="normal" font-style="normal" fill="#1a1a1a"  stroke="#1a1a1a" stroke-width="0.18">2</text>
<line x1="298" y1="112.85" x2="302" y2="112.85" stroke="#2a2a2a" stroke-width="1.2"/>
<text x="295" y="115.75" font-size="9.3" text-anchor="end" font-weight="normal" font-style="normal" fill="#1a1a1a"  stroke="#1a1a1a" stroke-width="0.18">3</text>
<line x1="298" y1="86.5" x2="302" y2="86.5" stroke="#2a2a2a" stroke-width="1.2"/>
<text x="295" y="89.4" font-size="9.3" text-anchor="end" font-weight="normal" font-style="normal" fill="#1a1a1a"  stroke="#1a1a1a" stroke-width="0.18">4</text>
<line x1="298" y1="60.15" x2="302" y2="60.15" stroke="#2a2a2a" stroke-width="1.2"/>
<text x="295" y="63.05" font-size="9.3" text-anchor="end" font-weight="normal" font-style="normal" fill="#1a1a1a"  stroke="#1a1a1a" stroke-width="0.18">5</text>
<line x1="298" y1="33.8" x2="302" y2="33.8" stroke="#2a2a2a" stroke-width="1.2"/>
<text x="295" y="36.7" font-size="9.3" text-anchor="end" font-weight="normal" font-style="normal" fill="#1a1a1a"  stroke="#1a1a1a" stroke-width="0.18">6</text>
<line x1="301.4" y1="191.9" x2="380.6" y2="191.9" stroke="#2a2a2a" stroke-width="1.6"/>
<line x1="324.6" y1="191.9" x2="324.6" y2="195.4" stroke="#2a2a2a" stroke-width="1.2"/>
<line x1="358" y1="191.9" x2="358" y2="195.4" stroke="#2a2a2a" stroke-width="1.2"/>
<path d="M324.5,52.5 L324.5,44.5 L358.5,44.5 L358.5,52.5" fill="none" stroke="#222" stroke-width="1.0"/>
<text x="341.5" y="44" font-size="8.5" text-anchor="middle" font-weight="normal" font-style="normal" fill="#1a1a1a" stroke="#1a1a1a" stroke-width="0.35">**</text>
<text transform="translate(284.2,111.4) rotate(-90) scale(0.757,1)" font-size="10.2" text-anchor="middle" fill="#1a1a1a" stroke="#1a1a1a" stroke-width="0.25">Lag time (mins)</text>
<text x="276.8" y="207.2" font-size="9" text-anchor="start" font-weight="normal" font-style="italic" fill="#1a1a1a"  stroke="#1a1a1a" stroke-width="0.18">Klkb1</text>
<text x="324.9" y="207.2" font-size="9" text-anchor="middle" font-weight="normal" font-style="normal" fill="#1a1a1a" letter-spacing="0.6" stroke="#1a1a1a" stroke-width="0.2">+/+</text>
<text x="358" y="207.2" font-size="9" text-anchor="middle" font-weight="normal" font-style="normal" fill="#1a1a1a" letter-spacing="0.3" stroke="#1a1a1a" stroke-width="0.2">&#8722;/&#8722;</text>
<text x="398.9" y="18.8" font-size="13.5" text-anchor="start" font-weight="bold" font-style="normal" fill="#000" >C</text>
<rect x="448.25" y="80.5" width="19.75" height="111.5" fill="#8e9bbd"/>
<rect x="480.8" y="118.25" width="19.9" height="73.75" fill="#aed3f1"/>
<line x1="458" y1="70.5" x2="458" y2="86.5" stroke="#222" stroke-width="1.1"/>
<line x1="454.2" y1="70.5" x2="461.8" y2="70.5" stroke="#222" stroke-width="1.1"/>
<line x1="454.2" y1="86.5" x2="461.8" y2="86.5" stroke="#222" stroke-width="1.1"/>
<line x1="490.75" y1="103.5" x2="490.75" y2="149.5" stroke="#222" stroke-width="1.1"/>
<line x1="486.95" y1="103.5" x2="494.55" y2="103.5" stroke="#222" stroke-width="1.1"/>
<line x1="486.95" y1="149.5" x2="494.55" y2="149.5" stroke="#222" stroke-width="1.1"/>
<circle cx="458" cy="64" r="3.25" fill="#164985" stroke="#0c3262" stroke-width="0.8"/>
<circle cx="449.5" cy="78.25" r="3.25" fill="#164985" stroke="#0c3262" stroke-width="0.8"/>
<circle cx="466.25" cy="79" r="3.25" fill="#164985" stroke="#0c3262" stroke-width="0.8"/>
<circle cx="458" cy="82" r="3.25" fill="#164985" stroke="#0c3262" stroke-width="0.8"/>
<circle cx="458" cy="89.5" r="3.25" fill="#164985" stroke="#0c3262" stroke-width="0.8"/>
<circle cx="485.25" cy="102.5" r="3.25" fill="#2ca0da" stroke="#1f88c4" stroke-width="0.8"/>
<circle cx="496.25" cy="105" r="3.25" fill="#2ca0da" stroke="#1f88c4" stroke-width="0.8"/>
<circle cx="490.75" cy="117.5" r="3.25" fill="#2ca0da" stroke="#1f88c4" stroke-width="0.8"/>
<circle cx="485.25" cy="149.5" r="3.25" fill="#2ca0da" stroke="#1f88c4" stroke-width="0.8"/>
<circle cx="496.25" cy="148.75" r="3.25" fill="#2ca0da" stroke="#1f88c4" stroke-width="0.8"/>
<line x1="435.95" y1="36" x2="435.95" y2="192.6" stroke="#2a2a2a" stroke-width="1.6"/>
<line x1="431.75" y1="192" x2="435.75" y2="192" stroke="#2a2a2a" stroke-width="1.2"/>
<text x="428.75" y="194.9" font-size="9.3" text-anchor="end" font-weight="normal" font-style="normal" fill="#1a1a1a"  stroke="#1a1a1a" stroke-width="0.18">0</text>
<line x1="431.75" y1="166.5" x2="435.75" y2="166.5" stroke="#2a2a2a" stroke-width="1.2"/>
<text x="428.75" y="169.4" font-size="9.3" text-anchor="end" font-weight="normal" font-style="normal" fill="#1a1a1a"  stroke="#1a1a1a" stroke-width="0.18">20</text>
<line x1="431.75" y1="141" x2="435.75" y2="141" stroke="#2a2a2a" stroke-width="1.2"/>
<text x="428.75" y="143.9" font-size="9.3" text-anchor="end" font-weight="normal" font-style="normal" fill="#1a1a1a"  stroke="#1a1a1a" stroke-width="0.18">40</text>
<line x1="431.75" y1="115.5" x2="435.75" y2="115.5" stroke="#2a2a2a" stroke-width="1.2"/>
<text x="428.75" y="118.4" font-size="9.3" text-anchor="end" font-weight="normal" font-style="normal" fill="#1a1a1a"  stroke="#1a1a1a" stroke-width="0.18">60</text>
<line x1="431.75" y1="90" x2="435.75" y2="90" stroke="#2a2a2a" stroke-width="1.2"/>
<text x="428.75" y="92.9" font-size="9.3" text-anchor="end" font-weight="normal" font-style="normal" fill="#1a1a1a"  stroke="#1a1a1a" stroke-width="0.18">80</text>
<line x1="431.75" y1="64.5" x2="435.75" y2="64.5" stroke="#2a2a2a" stroke-width="1.2"/>
<text x="428.75" y="67.4" font-size="9.3" text-anchor="end" font-weight="normal" font-style="normal" fill="#1a1a1a"  stroke="#1a1a1a" stroke-width="0.18">100</text>
<line x1="431.75" y1="39" x2="435.75" y2="39" stroke="#2a2a2a" stroke-width="1.2"/>
<text x="428.75" y="41.9" font-size="9.3" text-anchor="end" font-weight="normal" font-style="normal" fill="#1a1a1a"  stroke="#1a1a1a" stroke-width="0.18">120</text>
<line x1="435.15" y1="192" x2="512" y2="192" stroke="#2a2a2a" stroke-width="1.6"/>
<line x1="458" y1="192" x2="458" y2="195.5" stroke="#2a2a2a" stroke-width="1.2"/>
<line x1="490.75" y1="192" x2="490.75" y2="195.5" stroke="#2a2a2a" stroke-width="1.2"/>
<path d="M457.5,56.25 L457.5,48.5 L491.5,48.5 L491.5,56.25" fill="none" stroke="#222" stroke-width="1.0"/>
<text x="474.5" y="48" font-size="8.5" text-anchor="middle" font-weight="normal" font-style="normal" fill="#1a1a1a" stroke="#1a1a1a" stroke-width="0.35">**</text>
<text transform="translate(407.5,114.3) rotate(-90) scale(0.742,1)" font-size="10.2" text-anchor="middle" fill="#1a1a1a" stroke="#1a1a1a" stroke-width="0.25">Peak height (nM)</text>
<text x="410.5" y="207.2" font-size="9" text-anchor="start" font-weight="normal" font-style="italic" fill="#1a1a1a"  stroke="#1a1a1a" stroke-width="0.18">Klkb1</text>
<text x="458.3" y="207.2" font-size="9" text-anchor="middle" font-weight="normal" font-style="normal" fill="#1a1a1a" letter-spacing="0.6" stroke="#1a1a1a" stroke-width="0.2">+/+</text>
<text x="490.75" y="207.2" font-size="9" text-anchor="middle" font-weight="normal" font-style="normal" fill="#1a1a1a" letter-spacing="0.3" stroke="#1a1a1a" stroke-width="0.2">&#8722;/&#8722;</text>
<text x="274.6" y="253.8" font-size="13.5" text-anchor="start" font-weight="bold" font-style="normal" fill="#000" >E</text>
<rect x="313.1" y="348.5" width="20.9" height="69.2" fill="#8e9bbd"/>
<rect x="345.5" y="311" width="20.6" height="106.7" fill="#aed3f1"/>
<line x1="323.75" y1="344.5" x2="323.75" y2="360.5" stroke="#222" stroke-width="1.1"/>
<line x1="319.95" y1="344.5" x2="327.55" y2="344.5" stroke="#222" stroke-width="1.1"/>
<line x1="319.95" y1="360.5" x2="327.55" y2="360.5" stroke="#222" stroke-width="1.1"/>
<line x1="356.25" y1="302.5" x2="356.25" y2="317.5" stroke="#222" stroke-width="1.1"/>
<line x1="352.45" y1="302.5" x2="360.05" y2="302.5" stroke="#222" stroke-width="1.1"/>
<line x1="352.45" y1="317.5" x2="360.05" y2="317.5" stroke="#222" stroke-width="1.1"/>
<circle cx="323.75" cy="333.75" r="3.25" fill="#164985" stroke="#0c3262" stroke-width="0.8"/>
<circle cx="315.5" cy="345.75" r="3.25" fill="#164985" stroke="#0c3262" stroke-width="0.8"/>
<circle cx="323.75" cy="345" r="3.25" fill="#164985" stroke="#0c3262" stroke-width="0.8"/>
<circle cx="332" cy="346.75" r="3.25" fill="#164985" stroke="#0c3262" stroke-width="0.8"/>
<circle cx="323.75" cy="355.5" r="3.25" fill="#164985" stroke="#0c3262" stroke-width="0.8"/>
<circle cx="315.5" cy="363.75" r="3.25" fill="#164985" stroke="#0c3262" stroke-width="0.8"/>
<circle cx="332" cy="360.75" r="3.25" fill="#164985" stroke="#0c3262" stroke-width="0.8"/>
<circle cx="356.25" cy="297.5" r="3.25" fill="#2ca0da" stroke="#1f88c4" stroke-width="0.8"/>
<circle cx="356.25" cy="304.5" r="3.25" fill="#2ca0da" stroke="#1f88c4" stroke-width="0.8"/>
<circle cx="347.5" cy="308.75" r="3.25" fill="#2ca0da" stroke="#1f88c4" stroke-width="0.8"/>
<circle cx="364.5" cy="308.75" r="3.25" fill="#2ca0da" stroke="#1f88c4" stroke-width="0.8"/>
<circle cx="356.25" cy="313.75" r="3.25" fill="#2ca0da" stroke="#1f88c4" stroke-width="0.8"/>
<circle cx="356.25" cy="328" r="3.25" fill="#2ca0da" stroke="#1f88c4" stroke-width="0.8"/>
<line x1="302.2" y1="264" x2="302.2" y2="418.3" stroke="#2a2a2a" stroke-width="1.6"/>
<line x1="298" y1="417.7" x2="302" y2="417.7" stroke="#2a2a2a" stroke-width="1.2"/>
<text x="295" y="420.6" font-size="9.3" text-anchor="end" font-weight="normal" font-style="normal" fill="#1a1a1a"  stroke="#1a1a1a" stroke-width="0.18">0</text>
<line x1="298" y1="387.55" x2="302" y2="387.55" stroke="#2a2a2a" stroke-width="1.2"/>
<text x="295" y="390.45" font-size="9.3" text-anchor="end" font-weight="normal" font-style="normal" fill="#1a1a1a"  stroke="#1a1a1a" stroke-width="0.18">5</text>
<line x1="298" y1="357.4" x2="302" y2="357.4" stroke="#2a2a2a" stroke-width="1.2"/>
<text x="295" y="360.3" font-size="9.3" text-anchor="end" font-weight="normal" font-style="normal" fill="#1a1a1a"  stroke="#1a1a1a" stroke-width="0.18">10</text>
<line x1="298" y1="327.25" x2="302" y2="327.25" stroke="#2a2a2a" stroke-width="1.2"/>
<text x="295" y="330.15" font-size="9.3" text-anchor="end" font-weight="normal" font-style="normal" fill="#1a1a1a"  stroke="#1a1a1a" stroke-width="0.18">15</text>
<line x1="298" y1="297.1" x2="302" y2="297.1" stroke="#2a2a2a" stroke-width="1.2"/>
<text x="295" y="300" font-size="9.3" text-anchor="end" font-weight="normal" font-style="normal" fill="#1a1a1a"  stroke="#1a1a1a" stroke-width="0.18">20</text>
<line x1="298" y1="266.95" x2="302" y2="266.95" stroke="#2a2a2a" stroke-width="1.2"/>
<text x="295" y="269.85" font-size="9.3" text-anchor="end" font-weight="normal" font-style="normal" fill="#1a1a1a"  stroke="#1a1a1a" stroke-width="0.18">25</text>
<line x1="301.4" y1="417.7" x2="378" y2="417.7" stroke="#2a2a2a" stroke-width="1.6"/>
<line x1="323.5" y1="417.7" x2="323.5" y2="421.2" stroke="#2a2a2a" stroke-width="1.2"/>
<line x1="355.7" y1="417.7" x2="355.7" y2="421.2" stroke="#2a2a2a" stroke-width="1.2"/>
<path d="M323.5,290.5 L323.5,282.5 L356.5,282.5 L356.5,290.5" fill="none" stroke="#222" stroke-width="1.0"/>
<text x="340" y="282" font-size="8.5" text-anchor="middle" font-weight="normal" font-style="normal" fill="#1a1a1a" stroke="#1a1a1a" stroke-width="0.35">**</text>
<text transform="translate(278.3,341.5) rotate(-90) scale(0.757,1)" font-size="10.2" text-anchor="middle" fill="#1a1a1a" stroke="#1a1a1a" stroke-width="0.25">Lag time (mins)</text>
<text x="276.8" y="433" font-size="9" text-anchor="start" font-weight="normal" font-style="italic" fill="#1a1a1a"  stroke="#1a1a1a" stroke-width="0.18">Klkb1</text>
<text x="323.8" y="433" font-size="9" text-anchor="middle" font-weight="normal" font-style="normal" fill="#1a1a1a" letter-spacing="0.6" stroke="#1a1a1a" stroke-width="0.2">+/+</text>
<text x="355.7" y="433" font-size="9" text-anchor="middle" font-weight="normal" font-style="normal" fill="#1a1a1a" letter-spacing="0.3" stroke="#1a1a1a" stroke-width="0.2">&#8722;/&#8722;</text>
<text x="398.9" y="253.8" font-size="13.5" text-anchor="start" font-weight="bold" font-style="normal" fill="#000" >F</text>
<rect x="448.25" y="316.25" width="19.75" height="101.75" fill="#8e9bbd"/>
<rect x="480.8" y="376.25" width="19.9" height="41.75" fill="#aed3f1"/>
<line x1="458" y1="310.5" x2="458" y2="327.5" stroke="#222" stroke-width="1.1"/>
<line x1="454.2" y1="310.5" x2="461.8" y2="310.5" stroke="#222" stroke-width="1.1"/>
<line x1="454.2" y1="327.5" x2="461.8" y2="327.5" stroke="#222" stroke-width="1.1"/>
<line x1="490.75" y1="369.5" x2="490.75" y2="393.5" stroke="#222" stroke-width="1.1"/>
<line x1="486.95" y1="369.5" x2="494.55" y2="369.5" stroke="#222" stroke-width="1.1"/>
<line x1="486.95" y1="393.5" x2="494.55" y2="393.5" stroke="#222" stroke-width="1.1"/>
<circle cx="449.5" cy="307.5" r="3.25" fill="#164985" stroke="#0c3262" stroke-width="0.8"/>
<circle cx="458" cy="310.75" r="3.25" fill="#164985" stroke="#0c3262" stroke-width="0.8"/>
<circle cx="466.5" cy="308.75" r="3.25" fill="#164985" stroke="#0c3262" stroke-width="0.8"/>
<circle cx="458" cy="316.25" r="3.25" fill="#164985" stroke="#0c3262" stroke-width="0.8"/>
<circle cx="466.5" cy="315" r="3.25" fill="#164985" stroke="#0c3262" stroke-width="0.8"/>
<circle cx="458" cy="327.5" r="3.25" fill="#164985" stroke="#0c3262" stroke-width="0.8"/>
<circle cx="458" cy="351.25" r="3.25" fill="#164985" stroke="#0c3262" stroke-width="0.8"/>
<circle cx="485.25" cy="370" r="3.25" fill="#2ca0da" stroke="#1f88c4" stroke-width="0.8"/>
<circle cx="496.25" cy="368" r="3.25" fill="#2ca0da" stroke="#1f88c4" stroke-width="0.8"/>
<circle cx="485.25" cy="376.25" r="3.25" fill="#2ca0da" stroke="#1f88c4" stroke-width="0.8"/>
<circle cx="496.25" cy="375" r="3.25" fill="#2ca0da" stroke="#1f88c4" stroke-width="0.8"/>
<circle cx="496.25" cy="392.5" r="3.25" fill="#2ca0da" stroke="#1f88c4" stroke-width="0.8"/>
<circle cx="485.25" cy="397.5" r="3.25" fill="#2ca0da" stroke="#1f88c4" stroke-width="0.8"/>
<line x1="435.95" y1="262" x2="435.95" y2="418.6" stroke="#2a2a2a" stroke-width="1.6"/>
<line x1="431.75" y1="418" x2="435.75" y2="418" stroke="#2a2a2a" stroke-width="1.2"/>
<text x="428.75" y="420.9" font-size="9.3" text-anchor="end" font-weight="normal" font-style="normal" fill="#1a1a1a"  stroke="#1a1a1a" stroke-width="0.18">0</text>
<line x1="431.75" y1="392.46" x2="435.75" y2="392.46" stroke="#2a2a2a" stroke-width="1.2"/>
<text x="428.75" y="395.36" font-size="9.3" text-anchor="end" font-weight="normal" font-style="normal" fill="#1a1a1a"  stroke="#1a1a1a" stroke-width="0.18">20</text>
<line x1="431.75" y1="366.92" x2="435.75" y2="366.92" stroke="#2a2a2a" stroke-width="1.2"/>
<text x="428.75" y="369.82" font-size="9.3" text-anchor="end" font-weight="normal" font-style="normal" fill="#1a1a1a"  stroke="#1a1a1a" stroke-width="0.18">40</text>
<line x1="431.75" y1="341.38" x2="435.75" y2="341.38" stroke="#2a2a2a" stroke-width="1.2"/>
<text x="428.75" y="344.28" font-size="9.3" text-anchor="end" font-weight="normal" font-style="normal" fill="#1a1a1a"  stroke="#1a1a1a" stroke-width="0.18">60</text>
<line x1="431.75" y1="315.84" x2="435.75" y2="315.84" stroke="#2a2a2a" stroke-width="1.2"/>
<text x="428.75" y="318.74" font-size="9.3" text-anchor="end" font-weight="normal" font-style="normal" fill="#1a1a1a"  stroke="#1a1a1a" stroke-width="0.18">80</text>
<line x1="431.75" y1="290.3" x2="435.75" y2="290.3" stroke="#2a2a2a" stroke-width="1.2"/>
<text x="428.75" y="293.2" font-size="9.3" text-anchor="end" font-weight="normal" font-style="normal" fill="#1a1a1a"  stroke="#1a1a1a" stroke-width="0.18">100</text>
<line x1="431.75" y1="264.76" x2="435.75" y2="264.76" stroke="#2a2a2a" stroke-width="1.2"/>
<text x="428.75" y="267.66" font-size="9.3" text-anchor="end" font-weight="normal" font-style="normal" fill="#1a1a1a"  stroke="#1a1a1a" stroke-width="0.18">120</text>
<line x1="435.15" y1="418" x2="512" y2="418" stroke="#2a2a2a" stroke-width="1.6"/>
<line x1="458" y1="418" x2="458" y2="421.5" stroke="#2a2a2a" stroke-width="1.2"/>
<line x1="490.75" y1="418" x2="490.75" y2="421.5" stroke="#2a2a2a" stroke-width="1.2"/>
<path d="M457.5,288.75 L457.5,280.5 L491.5,280.5 L491.5,288.75" fill="none" stroke="#222" stroke-width="1.0"/>
<text x="474.5" y="280" font-size="8.5" text-anchor="middle" font-weight="normal" font-style="normal" fill="#1a1a1a" stroke="#1a1a1a" stroke-width="0.35">**</text>
<text transform="translate(407.5,340.5) rotate(-90) scale(0.742,1)" font-size="10.2" text-anchor="middle" fill="#1a1a1a" stroke="#1a1a1a" stroke-width="0.25">Peak height (nM)</text>
<text x="410.5" y="433" font-size="9" text-anchor="start" font-weight="normal" font-style="italic" fill="#1a1a1a"  stroke="#1a1a1a" stroke-width="0.18">Klkb1</text>
<text x="458.3" y="433" font-size="9" text-anchor="middle" font-weight="normal" font-style="normal" fill="#1a1a1a" letter-spacing="0.6" stroke="#1a1a1a" stroke-width="0.2">+/+</text>
<text x="490.75" y="433" font-size="9" text-anchor="middle" font-weight="normal" font-style="normal" fill="#1a1a1a" letter-spacing="0.3" stroke="#1a1a1a" stroke-width="0.2">&#8722;/&#8722;</text>
<text x="269.2" y="479.1" font-size="13.5" text-anchor="start" font-weight="bold" font-style="normal" fill="#000" >H</text>
<rect x="313.75" y="591" width="20.5" height="54.6" fill="#ab8b6c"/>
<rect x="346.25" y="564" width="20.75" height="81.6" fill="#e58a80"/>
<line x1="324.25" y1="571.5" x2="324.25" y2="594.5" stroke="#222" stroke-width="1.1"/>
<line x1="320.45" y1="571.5" x2="328.05" y2="571.5" stroke="#222" stroke-width="1.1"/>
<line x1="320.45" y1="594.5" x2="328.05" y2="594.5" stroke="#222" stroke-width="1.1"/>
<line x1="356.75" y1="534.5" x2="356.75" y2="564.5" stroke="#222" stroke-width="1.1"/>
<line x1="352.95" y1="534.5" x2="360.55" y2="534.5" stroke="#222" stroke-width="1.1"/>
<line x1="352.95" y1="564.5" x2="360.55" y2="564.5" stroke="#222" stroke-width="1.1"/>
<circle cx="324.25" cy="560.5" r="3.25" fill="#72420f" stroke="#3a1f08" stroke-width="0.8"/>
<circle cx="324.25" cy="582" r="3.25" fill="#72420f" stroke="#3a1f08" stroke-width="0.8"/>
<circle cx="315.5" cy="589.25" r="3.25" fill="#72420f" stroke="#3a1f08" stroke-width="0.8"/>
<circle cx="332.5" cy="589.25" r="3.25" fill="#72420f" stroke="#3a1f08" stroke-width="0.8"/>
<circle cx="324.25" cy="592.5" r="3.25" fill="#72420f" stroke="#3a1f08" stroke-width="0.8"/>
<circle cx="356.75" cy="519.5" r="3.25" fill="#d20a2c" stroke="#8e0019" stroke-width="0.8"/>
<circle cx="356.75" cy="548.5" r="3.25" fill="#d20a2c" stroke="#8e0019" stroke-width="0.8"/>
<circle cx="348" cy="560.5" r="3.25" fill="#d20a2c" stroke="#8e0019" stroke-width="0.8"/>
<circle cx="365" cy="563" r="3.25" fill="#d20a2c" stroke="#8e0019" stroke-width="0.8"/>
<circle cx="356.75" cy="565.5" r="3.25" fill="#d20a2c" stroke="#8e0019" stroke-width="0.8"/>
<line x1="302.2" y1="489.5" x2="302.2" y2="646.2" stroke="#2a2a2a" stroke-width="1.6"/>
<line x1="298" y1="645.6" x2="302" y2="645.6" stroke="#2a2a2a" stroke-width="1.2"/>
<text x="295" y="648.5" font-size="9.3" text-anchor="end" font-weight="normal" font-style="normal" fill="#1a1a1a"  stroke="#1a1a1a" stroke-width="0.18">0</text>
<line x1="298" y1="615" x2="302" y2="615" stroke="#2a2a2a" stroke-width="1.2"/>
<text x="295" y="617.9" font-size="9.3" text-anchor="end" font-weight="normal" font-style="normal" fill="#1a1a1a"  stroke="#1a1a1a" stroke-width="0.18">5</text>
<line x1="298" y1="584.4" x2="302" y2="584.4" stroke="#2a2a2a" stroke-width="1.2"/>
<text x="295" y="587.3" font-size="9.3" text-anchor="end" font-weight="normal" font-style="normal" fill="#1a1a1a"  stroke="#1a1a1a" stroke-width="0.18">10</text>
<line x1="298" y1="553.8" x2="302" y2="553.8" stroke="#2a2a2a" stroke-width="1.2"/>
<text x="295" y="556.7" font-size="9.3" text-anchor="end" font-weight="normal" font-style="normal" fill="#1a1a1a"  stroke="#1a1a1a" stroke-width="0.18">15</text>
<line x1="298" y1="523.2" x2="302" y2="523.2" stroke="#2a2a2a" stroke-width="1.2"/>
<text x="295" y="526.1" font-size="9.3" text-anchor="end" font-weight="normal" font-style="normal" fill="#1a1a1a"  stroke="#1a1a1a" stroke-width="0.18">20</text>
<line x1="298" y1="492.6" x2="302" y2="492.6" stroke="#2a2a2a" stroke-width="1.2"/>
<text x="295" y="495.5" font-size="9.3" text-anchor="end" font-weight="normal" font-style="normal" fill="#1a1a1a"  stroke="#1a1a1a" stroke-width="0.18">25</text>
<line x1="301.4" y1="645.6" x2="377.5" y2="645.6" stroke="#2a2a2a" stroke-width="1.6"/>
<line x1="324.25" y1="645.6" x2="324.25" y2="649.1" stroke="#2a2a2a" stroke-width="1.2"/>
<line x1="356.75" y1="645.6" x2="356.75" y2="649.1" stroke="#2a2a2a" stroke-width="1.2"/>
<path d="M323.5,510 L323.5,502.5 L356.5,502.5 L356.5,510" fill="none" stroke="#222" stroke-width="1.0"/>
<text x="340" y="502" font-size="8.5" text-anchor="middle" font-weight="normal" font-style="normal" fill="#1a1a1a" stroke="#1a1a1a" stroke-width="0.35">*</text>
<text transform="translate(278.3,568.2) rotate(-90) scale(0.757,1)" font-size="10.2" text-anchor="middle" fill="#1a1a1a" stroke="#1a1a1a" stroke-width="0.25">Lag time (mins)</text>
<text x="287" y="660.6" font-size="9" text-anchor="start" font-weight="normal" font-style="italic" fill="#1a1a1a" letter-spacing="0.4" stroke="#1a1a1a" stroke-width="0.18">F12</text>
<text x="324.55" y="660.6" font-size="9" text-anchor="middle" font-weight="normal" font-style="normal" fill="#1a1a1a" letter-spacing="0.6" stroke="#1a1a1a" stroke-width="0.2">+/+</text>
<text x="356.75" y="660.6" font-size="9" text-anchor="middle" font-weight="normal" font-style="normal" fill="#1a1a1a" letter-spacing="0.3" stroke="#1a1a1a" stroke-width="0.2">&#8722;/&#8722;</text>
<text x="398.4" y="478.8" font-size="13.5" text-anchor="start" font-weight="bold" font-style="normal" fill="#000" >I</text>
<rect x="448.25" y="565" width="19.75" height="80.6" fill="#ab8b6c"/>
<rect x="480.8" y="617" width="19.9" height="28.6" fill="#e58a80"/>
<line x1="458" y1="546.5" x2="458" y2="577.5" stroke="#222" stroke-width="1.1"/>
<line x1="454.2" y1="546.5" x2="461.8" y2="546.5" stroke="#222" stroke-width="1.1"/>
<line x1="454.2" y1="577.5" x2="461.8" y2="577.5" stroke="#222" stroke-width="1.1"/>
<line x1="490.75" y1="603.5" x2="490.75" y2="617.5" stroke="#222" stroke-width="1.1"/>
<line x1="486.95" y1="603.5" x2="494.55" y2="603.5" stroke="#222" stroke-width="1.1"/>
<line x1="486.95" y1="617.5" x2="494.55" y2="617.5" stroke="#222" stroke-width="1.1"/>
<circle cx="458" cy="530" r="3.25" fill="#72420f" stroke="#3a1f08" stroke-width="0.8"/>
<circle cx="449.5" cy="563" r="3.25" fill="#72420f" stroke="#3a1f08" stroke-width="0.8"/>
<circle cx="466.25" cy="563" r="3.25" fill="#72420f" stroke="#3a1f08" stroke-width="0.8"/>
<circle cx="458" cy="566.25" r="3.25" fill="#72420f" stroke="#3a1f08" stroke-width="0.8"/>
<circle cx="458" cy="590.5" r="3.25" fill="#72420f" stroke="#3a1f08" stroke-width="0.8"/>
<circle cx="485" cy="604.5" r="3.25" fill="#d20a2c" stroke="#8e0019" stroke-width="0.8"/>
<circle cx="496.25" cy="602.5" r="3.25" fill="#d20a2c" stroke="#8e0019" stroke-width="0.8"/>
<circle cx="490.75" cy="616.25" r="3.25" fill="#d20a2c" stroke="#8e0019" stroke-width="0.8"/>
<circle cx="490.75" cy="623.75" r="3.25" fill="#d20a2c" stroke="#8e0019" stroke-width="0.8"/>
<circle cx="490.75" cy="628" r="3.25" fill="#d20a2c" stroke="#8e0019" stroke-width="0.8"/>
<line x1="435.95" y1="490" x2="435.95" y2="646.2" stroke="#2a2a2a" stroke-width="1.6"/>
<line x1="431.75" y1="645.6" x2="435.75" y2="645.6" stroke="#2a2a2a" stroke-width="1.2"/>
<text x="428.75" y="648.5" font-size="9.3" text-anchor="end" font-weight="normal" font-style="normal" fill="#1a1a1a"  stroke="#1a1a1a" stroke-width="0.18">0</text>
<line x1="431.75" y1="620.14" x2="435.75" y2="620.14" stroke="#2a2a2a" stroke-width="1.2"/>
<text x="428.75" y="623.04" font-size="9.3" text-anchor="end" font-weight="normal" font-style="normal" fill="#1a1a1a"  stroke="#1a1a1a" stroke-width="0.18">20</text>
<line x1="431.75" y1="594.68" x2="435.75" y2="594.68" stroke="#2a2a2a" stroke-width="1.2"/>
<text x="428.75" y="597.58" font-size="9.3" text-anchor="end" font-weight="normal" font-style="normal" fill="#1a1a1a"  stroke="#1a1a1a" stroke-width="0.18">40</text>
<line x1="431.75" y1="569.22" x2="435.75" y2="569.22" stroke="#2a2a2a" stroke-width="1.2"/>
<text x="428.75" y="572.12" font-size="9.3" text-anchor="end" font-weight="normal" font-style="normal" fill="#1a1a1a"  stroke="#1a1a1a" stroke-width="0.18">60</text>
<line x1="431.75" y1="543.76" x2="435.75" y2="543.76" stroke="#2a2a2a" stroke-width="1.2"/>
<text x="428.75" y="546.66" font-size="9.3" text-anchor="end" font-weight="normal" font-style="normal" fill="#1a1a1a"  stroke="#1a1a1a" stroke-width="0.18">80</text>
<line x1="431.75" y1="518.3" x2="435.75" y2="518.3" stroke="#2a2a2a" stroke-width="1.2"/>
<text x="428.75" y="521.2" font-size="9.3" text-anchor="end" font-weight="normal" font-style="normal" fill="#1a1a1a"  stroke="#1a1a1a" stroke-width="0.18">100</text>
<line x1="431.75" y1="492.84" x2="435.75" y2="492.84" stroke="#2a2a2a" stroke-width="1.2"/>
<text x="428.75" y="495.74" font-size="9.3" text-anchor="end" font-weight="normal" font-style="normal" fill="#1a1a1a"  stroke="#1a1a1a" stroke-width="0.18">120</text>
<line x1="435.15" y1="645.6" x2="512" y2="645.6" stroke="#2a2a2a" stroke-width="1.6"/>
<line x1="458" y1="645.6" x2="458" y2="649.1" stroke="#2a2a2a" stroke-width="1.2"/>
<line x1="490.75" y1="645.6" x2="490.75" y2="649.1" stroke="#2a2a2a" stroke-width="1.2"/>
<path d="M457.5,512.5 L457.5,504.5 L491.5,504.5 L491.5,512.5" fill="none" stroke="#222" stroke-width="1.0"/>
<text x="474.5" y="504" font-size="8.5" text-anchor="middle" font-weight="normal" font-style="normal" fill="#1a1a1a" stroke="#1a1a1a" stroke-width="0.35">**</text>
<text transform="translate(407.5,568) rotate(-90) scale(0.742,1)" font-size="10.2" text-anchor="middle" fill="#1a1a1a" stroke="#1a1a1a" stroke-width="0.25">Peak height (nM)</text>
<text x="422.5" y="660.6" font-size="9" text-anchor="start" font-weight="normal" font-style="italic" fill="#1a1a1a" letter-spacing="0.4" stroke="#1a1a1a" stroke-width="0.18">F12</text>
<text x="458.3" y="660.6" font-size="9" text-anchor="middle" font-weight="normal" font-style="normal" fill="#1a1a1a" letter-spacing="0.6" stroke="#1a1a1a" stroke-width="0.2">+/+</text>
<text x="490.75" y="660.6" font-size="9" text-anchor="middle" font-weight="normal" font-style="normal" fill="#1a1a1a" letter-spacing="0.3" stroke="#1a1a1a" stroke-width="0.2">&#8722;/&#8722;</text>
</svg>
<div class="frame"></div>
</div></body></html>
